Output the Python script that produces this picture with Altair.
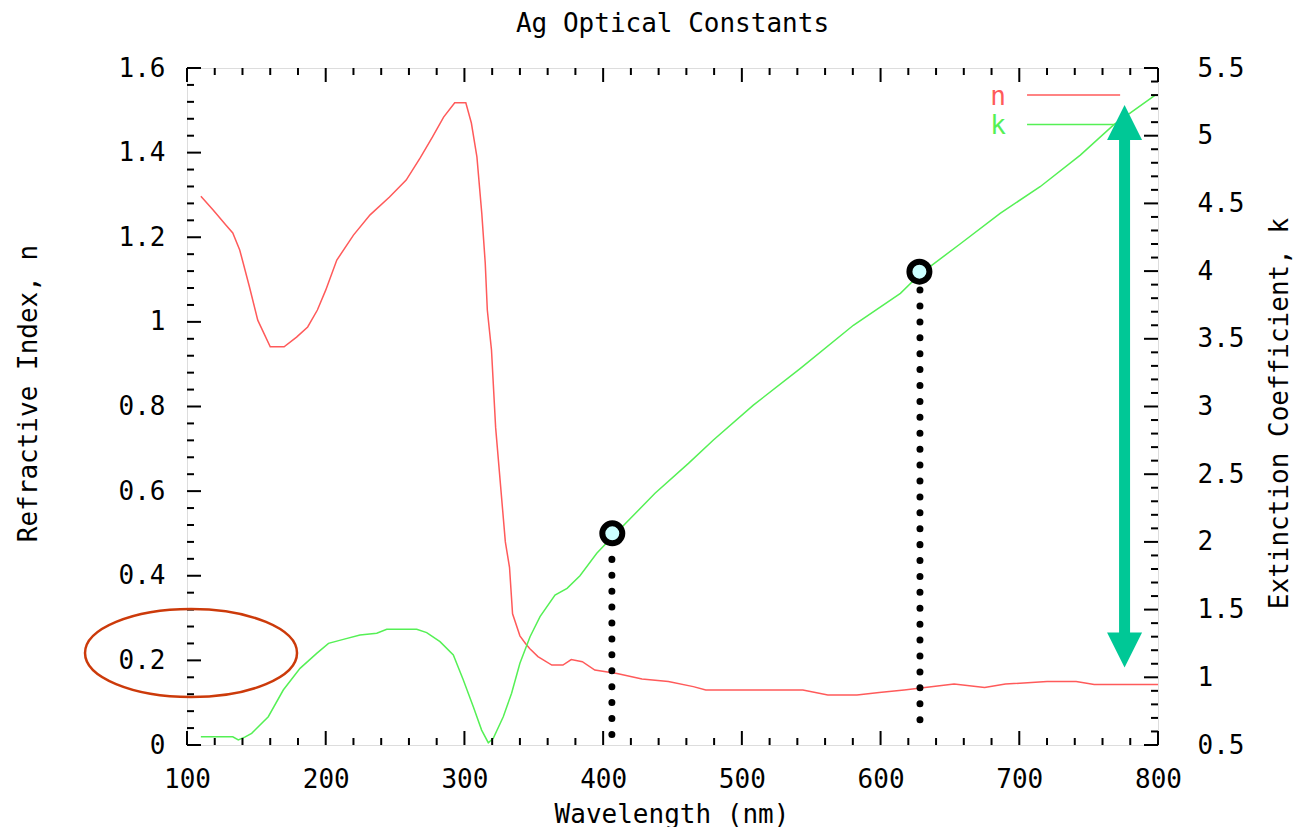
import altair as alt
import pandas as pd

# ---------------- data ----------------
n_wavelength = [110, 119, 128, 133, 138, 140.5, 145, 151, 160, 170, 179, 187, 194, 200,
                208, 220, 232, 246, 258, 268, 277, 285, 293, 301, 305, 309, 312.5, 315,
                316.5, 319.5, 322.5, 329.5, 332.5, 334.7, 340, 344, 347, 353, 363, 371,
                377, 385, 394, 410, 428, 447, 465, 474, 544, 562, 583, 599, 617, 632,
                653, 675, 690, 720, 741, 754, 800]
n_values = [1.297, 1.264, 1.229, 1.21, 1.17, 1.139, 1.083, 1.004, 0.941, 0.941, 0.964,
            0.988, 1.028, 1.075, 1.146, 1.205, 1.253, 1.295, 1.335, 1.387, 1.437, 1.484,
            1.518, 1.518, 1.47, 1.39, 1.257, 1.139, 1.028, 0.934, 0.75, 0.48, 0.42, 0.31,
            0.258, 0.24, 0.228, 0.209, 0.189, 0.189, 0.202, 0.197, 0.177, 0.169, 0.156,
            0.15, 0.138, 0.13, 0.13, 0.118, 0.118, 0.124, 0.13, 0.136, 0.144, 0.136,
            0.144, 0.15, 0.15, 0.143, 0.143]

k_wavelength = [110, 133, 137, 142, 146.6, 158.6, 169.4, 181.5, 193.5, 202, 212.7, 224.7,
                236.8, 244, 265.6, 272.8, 282.4, 292, 299.2, 306.4, 312.4, 317.2, 320.8,
                328, 334, 340, 347.3, 354.5, 365.3, 374, 383.3, 395.4, 406, 437.4, 461.5,
                479.5, 508.3, 542, 580.4, 614.3, 628.7, 657.3, 686.2, 715, 744, 768, 798]
k_values = [0.561, 0.561, 0.537, 0.56, 0.586, 0.709, 0.906, 1.066, 1.177, 1.251, 1.28,
            1.312, 1.325, 1.354, 1.354, 1.33, 1.263, 1.165, 0.98, 0.783, 0.61, 0.517,
            0.549, 0.709, 0.882, 1.103, 1.3, 1.448, 1.608, 1.657, 1.75, 1.916, 2.03,
            2.359, 2.58, 2.753, 3.01, 3.28, 3.6, 3.836, 3.98, 4.2, 4.427, 4.623, 4.857,
            5.08, 5.3]

# tick values
x_major = [100, 200, 300, 400, 500, 600, 700, 800]
x_minor = [v for v in range(100, 801, 20) if v % 100 != 0]
n_major = [0, 0.2, 0.4, 0.6, 0.8, 1.0, 1.2, 1.4, 1.6]
n_minor = [round(i * 0.04, 2) for i in range(41) if i % 5 != 0]
k_major = [0.5, 1, 1.5, 2, 2.5, 3, 3.5, 4, 4.5, 5, 5.5]
k_minor = [round(0.5 + i * 0.1, 1) for i in range(51) if i % 5 != 0]

# annotation anchors (in data units)
marker_wavelength = [406.6, 628.0]
marker_k = [2.063, 3.996]
guide_wavelength = [406.3, 628.4]
guide_k_top = [1.871, 3.86]
guide_k_bottom = [0.565, 0.672]
arrow_wavelength = [775.9]
arrow_k_top = [5.0975]
arrow_k_bottom = [1.2016]
legend_labels = ["n", "k"]
legend_text_wl = [684.7, 684.7]
legend_text_n = [1.5315, 1.463]
legend_line_wl_start = [705.6, 705.6]
legend_line_wl_end = [772.7, 772.7]
legend_line_n = [1.536, 1.4666]
ellipse_wl = [102.9]
ellipse_n = [0.2174]

# ---------------- styling ----------------
W, H = 971, 677
FONT = "DejaVu Sans Mono"
FS = 26
RED = "#ff5a5a"
GREEN = "#55f055"
TEAL = "#00c896"

xs = alt.Scale(domain=[100, 800], nice=False, zero=False)
ns = alt.Scale(domain=[0, 1.6], nice=False, zero=False)
ks = alt.Scale(domain=[0.5, 5.5], nice=False, zero=False)

df_n = pd.DataFrame({"wl": n_wavelength, "n": n_values})
df_k = pd.DataFrame({"wl": k_wavelength, "k": k_values})

common_axis = dict(grid=False, ticks=False, domain=False,
                   labelFont=FONT, labelFontSize=FS, labelColor="black",
                   titleFont=FONT, titleFontSize=FS, titleFontWeight="normal",
                   titleColor="black", labelOverlap=False, labelFlush=False)

n_line = alt.Chart(df_n).mark_line(color=RED, strokeWidth=1.5).encode(
    x=alt.X("wl:Q", scale=xs, axis=alt.Axis(
        values=x_major, format="d", labelPadding=21, title="Wavelength (nm)",
        titleX=484.5, titleY=69, titleBaseline="middle", titleAlign="center",
        **common_axis)),
    y=alt.Y("n:Q", scale=ns, axis=alt.Axis(
        orient="left", values=n_major, format="~g", labelPadding=22,
        title="Refractive Index, n", titleAngle=270, titleX=-159, titleY=325,
        titleBaseline="middle", titleAlign="center", **common_axis)),
)

k_line = alt.Chart(df_k).mark_line(color=GREEN, strokeWidth=1.5).encode(
    x=alt.X("wl:Q", scale=xs),
    y=alt.Y("k:Q", scale=ks, axis=alt.Axis(
        orient="right", values=k_major, format="~g", labelPadding=39,
        title="Extinction Coefficient, k", titleAngle=270, titleX=121, titleY=345,
        titleBaseline="middle", titleAlign="center", **common_axis)),
)


def x_ticks(values, length):
    d = pd.DataFrame({"v": values})
    base = alt.Chart(d).mark_rule(color="black", strokeWidth=2)
    bottom = base.encode(x=alt.X("v:Q", scale=xs),
                         y=alt.value(H), y2=alt.value(H - length))
    top = base.encode(x=alt.X("v:Q", scale=xs),
                      y=alt.value(0), y2=alt.value(length))
    return [bottom, top]


def y_ticks(values, scale, length, right=False):
    d = pd.DataFrame({"v": values})
    x0 = W if right else 0
    x1 = W - length if right else length
    return alt.Chart(d).mark_rule(color="black", strokeWidth=2).encode(
        y=alt.Y("v:Q", scale=scale, axis=None), x=alt.value(x0), x2=alt.value(x1))


# legend
legend_layers = []
for i, col in enumerate([RED, GREEN]):
    d = pd.DataFrame({"label": [legend_labels[i]], "tx": [legend_text_wl[i]],
                      "ty": [legend_text_n[i]], "x1": [legend_line_wl_start[i]],
                      "x2": [legend_line_wl_end[i]], "ly": [legend_line_n[i]]})
    legend_layers.append(alt.Chart(d).mark_text(
        font=FONT, fontSize=FS, color=col, align="center", baseline="middle").encode(
        x=alt.X("tx:Q", scale=xs), y=alt.Y("ty:Q", scale=ns, axis=None),
        text="label:N"))
    legend_layers.append(alt.Chart(d).mark_rule(color=col, strokeWidth=1.5).encode(
        x=alt.X("x1:Q", scale=xs), x2="x2:Q",
        y=alt.Y("ly:Q", scale=ns, axis=None)))

# ellipse around the 0.2 label
ELLIPSE = ("M-1,0C-1,-0.2292 -0.5523,-0.415 0,-0.415C0.5523,-0.415 1,-0.2292 1,0"
           "C1,0.2292 0.5523,0.415 0,0.415C-0.5523,0.415 -1,0.2292 -1,0Z")
ellipse = alt.Chart(pd.DataFrame({"wl": ellipse_wl, "n": ellipse_n})).mark_point(
    shape=ELLIPSE, size=212 * 212, filled=False, stroke="#cc3a0a", strokeWidth=2.5,
    opacity=1).encode(
    x=alt.X("wl:Q", scale=xs), y=alt.Y("n:Q", scale=ns, axis=None))

# dotted guides and markers
guides = alt.Chart(pd.DataFrame({"wl": guide_wavelength, "top": guide_k_top,
                                 "bottom": guide_k_bottom})).mark_rule(
    color="black", strokeWidth=7, strokeDash=[0.01, 15.9], strokeCap="round").encode(
    x=alt.X("wl:Q", scale=xs), y=alt.Y("top:Q", scale=ks, axis=None),
    y2="bottom:Q")

markers = alt.Chart(pd.DataFrame({"wl": marker_wavelength, "k": marker_k})).mark_point(
    shape="circle", filled=True, fill="#ccffff", stroke="black", strokeWidth=6,
    size=400, opacity=1).encode(
    x=alt.X("wl:Q", scale=xs), y=alt.Y("k:Q", scale=ks, axis=None))

# double arrow
arrow_df = pd.DataFrame({"wl": arrow_wavelength, "top": arrow_k_top,
                         "bottom": arrow_k_bottom})
shaft = alt.Chart(arrow_df).mark_rule(color=TEAL, strokeWidth=11).encode(
    x=alt.X("wl:Q", scale=xs), y=alt.Y("top:Q", scale=ks, axis=None),
    y2="bottom:Q")
head_up = alt.Chart(arrow_df).mark_point(
    shape="M0,-1L1,1L-1,1Z", size=35 * 35, filled=True, color=TEAL, opacity=1).encode(
    x=alt.X("wl:Q", scale=xs), y=alt.Y("top:Q", scale=ks, axis=None))
head_down = alt.Chart(arrow_df).mark_point(
    shape="M0,1L1,-1L-1,-1Z", size=35 * 35, filled=True, color=TEAL, opacity=1).encode(
    x=alt.X("wl:Q", scale=xs), y=alt.Y("bottom:Q", scale=ks, axis=None))

# every layer has its own y scale, all with fixed domains; x is shared
chart = alt.layer(
    n_line, k_line,
    *x_ticks(x_major, 14), *x_ticks(x_minor, 7),
    y_ticks(n_major, ns, 14), y_ticks(n_minor, ns, 7),
    y_ticks(k_major, ks, 14, right=True), y_ticks(k_minor, ks, 7, right=True),
    *legend_layers,
    ellipse, guides, markers, shaft, head_up, head_down,
).resolve_scale(y="independent").properties(
    width=W, height=H,
    title=alt.TitleParams("Ag Optical Constants", font=FONT, fontSize=FS,
                          fontWeight="normal", color="black", anchor="middle",
                          baseline="top", offset=18),
    autosize=alt.AutoSizeParams(type="none"),
    padding={"left": 179, "top": 60, "right": 135, "bottom": 82},
).configure_view(stroke="black", strokeWidth=2).configure(background="white")

chart.save("out.html", embed_options={"renderer": "svg", "actions": False})
